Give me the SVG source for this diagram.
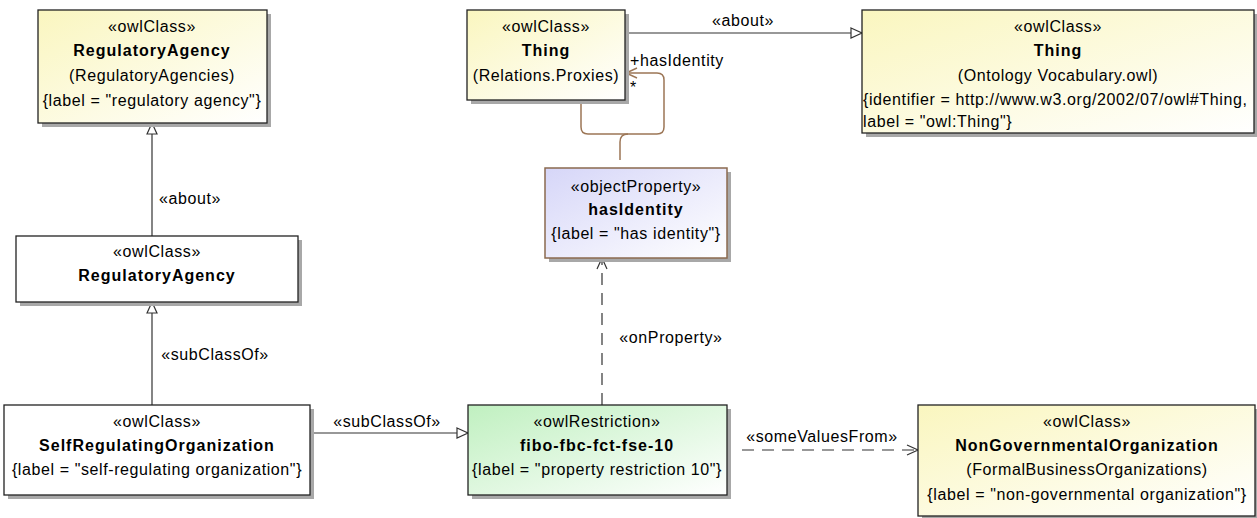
<svg xmlns="http://www.w3.org/2000/svg" width="1257" height="518" viewBox="0 0 1257 518">
<style>
text{font-family:"Liberation Sans",Arial,sans-serif;font-size:16px;fill:#000;text-anchor:middle;letter-spacing:0.6px}
.b{font-weight:bold;letter-spacing:1px}
.l{text-anchor:start}
.box{stroke:#222;stroke-width:1.3}
.sh{fill:#a8a8a8}
.c{fill:none;stroke:#333;stroke-width:1.2}
.d{stroke-dasharray:12,8}
.br{fill:none;stroke:#9c7656;stroke-width:1.5}
</style>
<defs>
<linearGradient id="gy" x1="0" y1="0" x2="1" y2="1"><stop offset="0" stop-color="#faf6bf"/><stop offset="1" stop-color="#ffffff"/></linearGradient>
<linearGradient id="gg" x1="0" y1="0" x2="1" y2="1"><stop offset="0" stop-color="#c0f0c0"/><stop offset="1" stop-color="#ffffff"/></linearGradient>
<linearGradient id="gp" x1="0" y1="0" x2="1" y2="1"><stop offset="0" stop-color="#d6d6f8"/><stop offset="1" stop-color="#ffffff"/></linearGradient>
<marker id="tri" markerWidth="14" markerHeight="14" refX="12" refY="6" orient="auto" markerUnits="userSpaceOnUse"><path d="M1,1 L12,6 L1,11 Z" fill="#fff" stroke="#333" stroke-width="1.2"/></marker>
<marker id="open" markerWidth="14" markerHeight="14" refX="12" refY="6" orient="auto" markerUnits="userSpaceOnUse"><path d="M1,1 L12,6 L1,11" fill="none" stroke="#333" stroke-width="1.2"/></marker>
<marker id="openb" markerWidth="14" markerHeight="14" refX="12" refY="6" orient="auto" markerUnits="userSpaceOnUse"><path d="M1,1 L12,6 L1,11" fill="none" stroke="#9c7656" stroke-width="1.4"/></marker>
</defs>

<g id="connectors">
<path class="c" d="M152,236 V123" marker-end="url(#tri)"/>
<text x="190" y="204">«about»</text>
<path class="c" d="M152,405 V302" marker-end="url(#tri)"/>
<text x="215" y="360">«subClassOf»</text>
<path class="c" d="M310,433 H468" marker-end="url(#tri)"/>
<text x="387" y="427">«subClassOf»</text>
<path class="c" d="M625,33 H862" marker-end="url(#tri)"/>
<text x="743" y="26">«about»</text>
<path class="c d" d="M602,405 V258" marker-end="url(#open)"/>
<text x="671" y="343">«onProperty»</text>
<path class="c d" d="M742,450 H918" marker-end="url(#open)"/>
<text x="822" y="442">«someValuesFrom»</text>
<path class="br" d="M581,100 V127 Q581,134 588,134 H657 Q664,134 664,127 V80 Q664,73 657,73 H626" marker-end="url(#openb)"/>
<path class="br" d="M620,160 V142 Q620,134 628,134"/>
<text class="l" x="630" y="66">+hasIdentity</text>
<text class="l" x="630" y="93">*</text>
</g>

<g id="RegulatoryAgency_top">
<rect class="sh" x="42" y="14" width="229" height="113"/>
<rect class="box" x="38" y="10" width="229" height="113" fill="url(#gy)"/>
<text x="152" y="32">«owlClass»</text>
<text class="b" x="152" y="56">RegulatoryAgency</text>
<text x="152" y="81">(RegulatoryAgencies)</text>
<text x="152" y="106">{label = "regulatory agency"}</text>
</g>

<g id="Thing_proxies">
<rect class="sh" x="471" y="14" width="158" height="90"/>
<rect class="box" x="467" y="10" width="158" height="90" fill="url(#gy)"/>
<text x="546" y="32">«owlClass»</text>
<text class="b" x="546" y="56">Thing</text>
<text x="546" y="81">(Relations.Proxies)</text>
</g>

<g id="Thing_owl">
<rect class="sh" x="866" y="14" width="391" height="123"/>
<rect class="box" x="862" y="10" width="392" height="123" fill="url(#gy)"/>
<text x="1058" y="32">«owlClass»</text>
<text class="b" x="1058" y="56">Thing</text>
<text x="1058" y="81">(Ontology Vocabulary.owl)</text>
<text class="l" x="863" y="105">{identifier = http://www.w3.org/2002/07/owl#Thing,</text>
<text class="l" x="863" y="127">label = "owl:Thing"}</text>
</g>

<g id="hasIdentity">
<rect class="sh" x="549" y="172" width="182" height="90"/>
<rect x="545" y="168" width="182" height="90" fill="url(#gp)" stroke="#8b6a4f" stroke-width="1.5"/>
<text x="636" y="192">«objectProperty»</text>
<text class="b" x="636" y="215">hasIdentity</text>
<text x="636" y="239">{label = "has identity"}</text>
</g>

<g id="RegulatoryAgency_mid">
<rect class="sh" x="20" y="240" width="282" height="66"/>
<rect class="box" x="16" y="236" width="282" height="66" fill="#fff"/>
<text x="157" y="257">«owlClass»</text>
<text class="b" x="157" y="281">RegulatoryAgency</text>
</g>

<g id="SelfRegulatingOrganization">
<rect class="sh" x="8" y="409" width="306" height="90"/>
<rect class="box" x="4" y="405" width="306" height="90" fill="#fff"/>
<text x="157" y="427">«owlClass»</text>
<text class="b" x="157" y="451">SelfRegulatingOrganization</text>
<text x="157" y="475">{label = "self-regulating organization"}</text>
</g>

<g id="fibo-fbc-fct-fse-10">
<rect class="sh" x="472" y="409" width="259" height="90"/>
<rect class="box" x="468" y="405" width="259" height="90" fill="url(#gg)"/>
<text x="597" y="427">«owlRestriction»</text>
<text class="b" x="597" y="451">fibo-fbc-fct-fse-10</text>
<text x="597" y="475">{label = "property restriction 10"}</text>
</g>

<g id="NonGovernmentalOrganization">
<rect class="sh" x="922" y="409" width="335" height="109"/>
<rect class="box" x="918" y="405" width="337" height="111" fill="url(#gy)"/>
<text x="1087" y="427">«owlClass»</text>
<text class="b" x="1087" y="451">NonGovernmentalOrganization</text>
<text x="1087" y="475">(FormalBusinessOrganizations)</text>
<text x="1087" y="500">{label = "non-governmental organization"}</text>
</g>
</svg>
